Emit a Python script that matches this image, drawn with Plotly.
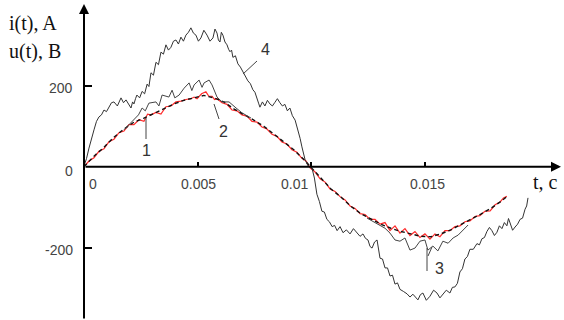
import plotly.graph_objects as go

# ---------------- data (time in ms, values in A / V) ----------------
t_red_ms = [0, 0.22, 0.44, 0.66, 0.88, 1.10, 1.32, 1.54, 1.76, 1.98, 2.20, 2.42, 2.64, 2.80, 2.95,
            3.17, 3.39, 3.61, 3.83, 4.05, 4.27, 4.49, 4.71, 4.85, 4.98, 5.18, 5.37, 5.50, 5.64, 5.75,
            5.86, 6.08, 6.30, 6.52, 6.74, 6.96, 7.18, 7.40, 7.62, 7.84, 8.06, 8.28, 8.50, 8.72, 8.94,
            9.16, 9.38, 9.58, 9.78, 9.96, 10.18, 10.40, 10.62, 10.84, 11.06, 11.28, 11.50, 11.72, 11.94,
            12.16, 12.38, 12.60, 12.82, 13.04, 13.26, 13.48, 13.70, 13.92, 14.14, 14.36, 14.58, 14.80,
            15.02, 15.24, 15.46, 15.68, 15.90, 16.12, 16.34, 16.56, 16.78, 17.00, 17.22, 17.44, 17.66,
            17.89, 18.11, 18.33, 18.48, 18.63]
v_red = [0, 14, 22, 38, 44, 62, 68, 84, 88, 104, 104, 116, 112, 130, 128,
         134, 130, 148, 150, 160, 162, 166, 168, 172, 168, 180, 185, 174, 174, 166,
         168, 158, 154, 140, 138, 128, 125, 112, 110, 98, 93, 80, 75, 61, 56,
         42, 36, 22, 14, -3, -13, -30, -38, -55, -61, -74, -82, -97, -103,
         -116, -118, -130, -130, -142, -138, -158, -146, -164, -153, -170, -160, -175,
         -166, -179, -166, -173, -158, -158, -148, -146, -136, -134, -123, -121, -110,
         -109, -94, -87, -77, -73]

t_c1_ms = [0, 0.44, 0.88, 1.32, 1.76, 2.20, 2.64, 3.08, 3.52, 3.96, 4.40, 4.84, 5.28, 5.72, 6.16,
           6.60, 7.04, 7.48, 7.92, 8.36, 8.80, 9.24, 9.68, 10.0, 10.44, 10.88, 11.32, 11.76, 12.20,
           12.64, 13.08, 13.52, 13.96, 14.40, 14.84, 15.28, 15.72, 16.16, 16.60, 17.04, 17.48, 17.92,
           18.36, 18.63]
v_c1 = [0, 26, 48, 73, 93, 110, 120, 132, 142, 155, 164, 170, 176, 170, 160,
        143, 130, 115, 100, 80, 60, 42, 18, -2, -30, -55, -75, -98, -116,
        -129, -142, -152, -160, -166, -172, -173, -166, -156, -142, -130, -117, -103,
        -86, -74]

t_c2_ms = [1.76, 2.20, 2.40, 2.56, 2.70, 2.86, 3.17, 3.30, 3.44, 3.74, 3.88, 4.00, 4.19, 4.41,
           4.63, 4.75, 4.85, 5.07, 5.20, 5.29, 5.51, 5.64, 5.86, 6.08, 6.39, 6.70, 6.96, 7.36]
v_c2 = [91, 115, 128, 145, 138, 157, 160, 150, 177, 172, 189, 170, 177, 194,
        207, 188, 202, 214, 196, 207, 214, 202, 172, 160, 160, 145, 133, 120]

t_c3_ms = [12.47, 13.04, 13.26, 13.48, 13.70, 13.92, 14.14, 14.36, 14.58, 14.80, 15.02, 15.15,
           15.37, 15.59, 15.81, 16.04, 16.26, 16.48, 16.70, 16.92]
v_c3 = [-127, -145, -152, -164, -181, -184, -176, -206, -201, -184, -181, -206,
        -196, -208, -184, -189, -176, -169, -156, -144]

t_c4_ms = [0, 0.11, 0.22, 0.33, 0.44, 0.55, 0.66, 0.77, 0.88, 0.99, 1.10, 1.21, 1.32, 1.47, 1.63,
           1.74, 1.85, 1.96, 2.07, 2.14, 2.20, 2.27, 2.33, 2.45, 2.56, 2.67, 2.78, 2.86, 2.95, 3.06,
           3.17, 3.28, 3.39, 3.50, 3.61, 3.72, 3.83, 3.94, 4.05, 4.16, 4.27, 4.38, 4.49, 4.60, 4.71,
           4.82, 4.93, 5.04, 5.15, 5.28, 5.42, 5.55, 5.68, 5.77, 5.86, 5.92, 5.99, 6.05, 6.12, 6.21,
           6.30, 6.37, 6.43, 6.50, 6.56, 6.67, 6.78, 6.89, 7.00, 7.11, 7.22, 7.33, 7.44, 7.53, 7.62,
           7.69, 7.75, 7.86, 7.97, 8.08, 8.19, 8.30, 8.41, 8.52, 8.63, 8.74, 8.85, 8.96, 9.07, 9.18,
           9.30, 9.43, 9.52, 9.60, 9.74, 9.87, 10.04, 10.15, 10.26, 10.37, 10.48, 10.59, 10.70, 10.81,
           10.93, 11.04, 11.15, 11.28, 11.41, 11.56, 11.72, 11.87, 12.03, 12.16, 12.29, 12.40, 12.51,
           12.60, 12.69, 12.80, 12.91, 12.97, 13.04, 13.15, 13.26, 13.37, 13.48, 13.59, 13.70, 13.81,
           13.92, 14.07, 14.23, 14.36, 14.49, 14.60, 14.71, 14.82, 14.93, 15.08, 15.24, 15.40, 15.55,
           15.68, 15.81, 15.96, 16.12, 16.23, 16.34, 16.45, 16.56, 16.67, 16.78, 16.89, 17.00, 17.15,
           17.31, 17.42, 17.53, 17.64, 17.75, 17.86, 17.97, 18.08, 18.19, 18.30, 18.41, 18.52, 18.63,
           18.70, 18.77, 18.88, 18.99, 19.10, 19.21, 19.32, 19.43, 19.50, 19.56]
v_c4 = [2, 20, 46, 72, 91, 112, 123, 128, 140, 136, 147, 158, 160, 150, 170,
        158, 165, 153, 145, 160, 155, 168, 177, 170, 186, 180, 204, 198, 232, 226,
        258, 252, 283, 278, 301, 288, 295, 310, 313, 303, 320, 310, 325, 332, 343,
        330, 325, 310, 318, 337, 325, 310, 318, 340, 330, 313, 308, 332, 325, 308,
        301, 290, 284, 288, 270, 274, 254, 246, 234, 225, 212, 205, 190, 184, 165,
        157, 147, 160, 150, 164, 155, 150, 159, 168, 158, 150, 154, 138, 145, 126,
        115, 91, 70, 49, 17, 2, -3, -28, -68, -86, -110, -112, -130, -136,
        -148, -145, -158, -148, -163, -156, -166, -153, -163, -172, -166, -177, -181,
        -197, -201, -186, -181, -205, -226, -228, -250, -250, -270, -268, -290, -287,
        -303, -308, -314, -322, -315, -322, -329, -316, -312, -330, -320, -305, -312,
        -324, -315, -305, -312, -298, -297, -288, -260, -252, -228, -222, -204, -204,
        -190, -193, -178, -175, -160, -150, -158, -170, -162, -146, -153, -138, -146,
        -128, -139, -157, -149, -142, -130, -127, -105, -97, -77]

x_tick_vals = [0, 0.005, 0.01, 0.015]
x_tick_text = ["0", "0.005", "0.01", "0.015"]
y_tick_vals = [200, 0, -200]
y_tick_text = ["200", "0", "-200"]
curve_labels = ["1", "2", "3", "4"]

# ---------------- geometry ----------------
W, H = 564, 320
PX_PER_MS = 22.7
X0_PX = 84.0
Y0_PX = 166.7
V_PER_PX = 2.47
x_range = [(-X0_PX / PX_PER_MS) / 1000, ((W - X0_PX) / PX_PER_MS) / 1000]
y_range = [(Y0_PX - H) * V_PER_PX, Y0_PX * V_PER_PX]


def px2t(x):
    return (x - X0_PX) / PX_PER_MS / 1000


def px2v(y):
    return (Y0_PX - y) * V_PER_PX


def ms(lst):
    return [v / 1000 for v in lst]


fig = go.Figure()
fig.add_trace(go.Scatter(x=ms(t_red_ms), y=v_red, mode="lines",
                         line=dict(color="#ff2a2a", width=1.2), hoverinfo="skip"))
fig.add_trace(go.Scatter(x=ms(t_c1_ms), y=v_c1, mode="lines",
                         line=dict(color="#111111", width=1.4, dash="4px,3px"), hoverinfo="skip"))
fig.add_trace(go.Scatter(x=ms(t_c2_ms), y=v_c2, mode="lines",
                         line=dict(color="#444444", width=1), hoverinfo="skip"))
fig.add_trace(go.Scatter(x=ms(t_c3_ms), y=v_c3, mode="lines",
                         line=dict(color="#444444", width=1), hoverinfo="skip"))
fig.add_trace(go.Scatter(x=ms(t_c4_ms), y=v_c4, mode="lines",
                         line=dict(color="#333333", width=1), hoverinfo="skip"))

annotations = []
# axis arrows
annotations.append(dict(x=px2t(561), y=0, ax=0, ay=0, xref="x", yref="y", axref="x", ayref="y",
                        text="", showarrow=True, arrowhead=2, arrowsize=1, arrowwidth=2,
                        arrowcolor="#000"))
annotations.append(dict(x=0, y=px2v(4), ax=0, ay=y_range[0], xref="x", yref="y", axref="x",
                        ayref="y", text="", showarrow=True, arrowhead=2, arrowsize=1,
                        arrowwidth=2, arrowcolor="#000"))

tick_font = dict(family="Liberation Sans Narrow, Liberation Sans, Arial, sans-serif", size=14,
                 color="#444")
x_label_shift = [9, 1, -17, 3]
for v, txt, sh in zip(x_tick_vals, x_tick_text, x_label_shift):
    annotations.append(dict(x=v, y=0, xref="x", yref="y", text=txt, showarrow=False,
                            xanchor="center", yanchor="middle", xshift=sh, yshift=-17,
                            font=tick_font))
y_label_yshift = [-2, -4, -2]
for v, txt, sh in zip(y_tick_vals, y_tick_text, y_label_yshift):
    annotations.append(dict(x=0, y=v, xref="x", yref="y", text=txt, showarrow=False,
                            xanchor="right", yanchor="middle", xshift=-9, yshift=sh,
                            font=tick_font))

serif = dict(family="Liberation Serif, Times New Roman, serif", size=20, color="#111")
annotations.append(dict(x=7 / W, y=1 - 24 / H, xref="paper", yref="paper", text="i(t), A",
                        showarrow=False, xanchor="left", yanchor="middle", font=serif))
annotations.append(dict(x=7 / W, y=1 - 51 / H, xref="paper", yref="paper", text="u(t), B",
                        showarrow=False, xanchor="left", yanchor="middle", font=serif))
annotations.append(dict(x=531 / W, y=1 - 182 / H, xref="paper", yref="paper", text="t, c",
                        showarrow=False, xanchor="left", yanchor="middle", font=serif))

lab_font = dict(family="Liberation Sans Narrow, Liberation Sans, Arial, sans-serif", size=16,
                color="#333")
label_pos_px = [(146, 150), (223, 131), (439, 268), (265, 49)]
for txt, (px, py) in zip(curve_labels, label_pos_px):
    annotations.append(dict(x=px2t(px), y=px2v(py), xref="x", yref="y", text=txt,
                            showarrow=False, xanchor="center", yanchor="middle", font=lab_font))

pointer_px = [((146, 118), (146, 139)), ((214, 104), (219, 119)), ((427, 248), (427, 271)),
              ((428, 256), (432, 247)), ((243, 74), (257, 61))]
shapes = []
for (xa, ya), (xb, yb) in pointer_px:
    shapes.append(dict(type="line", xref="x", yref="y", x0=px2t(xa), y0=px2v(ya),
                       x1=px2t(xb), y1=px2v(yb), line=dict(color="#444", width=1)))

fig.update_layout(
    width=W, height=H, margin=dict(l=0, r=0, t=0, b=0),
    paper_bgcolor="white", plot_bgcolor="white", showlegend=False,
    annotations=annotations, shapes=shapes,
    xaxis=dict(range=x_range, domain=[0, 1], anchor="free",
               position=(-y_range[0]) / (y_range[1] - y_range[0]),
               showgrid=False, zeroline=False, showline=False, showticklabels=False,
               tickmode="array", tickvals=x_tick_vals[1:], ticks="inside", ticklen=5,
               tickwidth=1.5, tickcolor="#000"),
    yaxis=dict(range=y_range, domain=[0, 1], anchor="free", position=X0_PX / W,
               showgrid=False, zeroline=False, showline=False, showticklabels=False,
               tickmode="array", tickvals=[200, -200, -378], ticks="inside", ticklen=7,
               tickwidth=1.5, tickcolor="#000"),
)

fig.write_html("out.html")
